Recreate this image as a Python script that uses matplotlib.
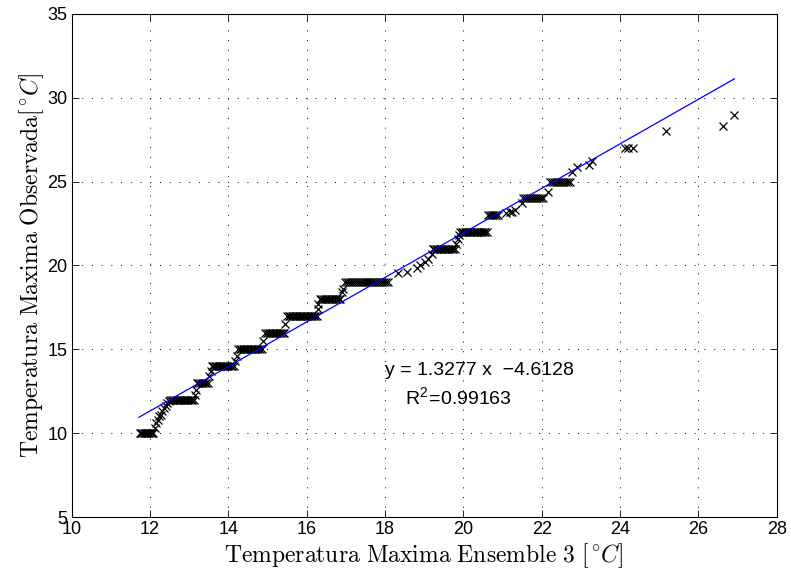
import matplotlib
matplotlib.use("Agg")
import matplotlib.pyplot as plt
import numpy as np

plt.rcParams['font.family'] = ['Liberation Sans', 'DejaVu Sans']
plt.rcParams['mathtext.fontset'] = 'cm'

# Observed levels (plateaus) and ensemble values on each plateau
plateau_levels = [10, 12, 13, 14, 15, 16, 17, 18, 19, 21, 22, 23, 24, 25]
plateau_x = [
    [11.75, 11.78, 11.81, 11.84, 11.87, 11.90, 11.93, 11.96, 11.99, 12.02, 12.05, 12.08],
    [12.52, 12.56, 12.60, 12.64, 12.68, 12.72, 12.76, 12.80, 12.84, 12.88, 12.92, 12.96, 13.00, 13.04, 13.08, 13.12],
    [13.20, 13.24, 13.28, 13.32, 13.36, 13.40, 13.44, 13.48],
    [13.58, 13.62, 13.66, 13.70, 13.74, 13.78, 13.82, 13.86, 13.90, 13.94, 13.98, 14.02, 14.06, 14.10, 14.14],
    [14.25, 14.29, 14.33, 14.37, 14.41, 14.45, 14.49, 14.53, 14.57, 14.61, 14.65, 14.69, 14.73, 14.77, 14.81, 14.85],
    [14.95, 14.99, 15.03, 15.07, 15.11, 15.15, 15.19, 15.23, 15.27, 15.31, 15.35, 15.39, 15.43],
    [15.50, 15.54, 15.58, 15.62, 15.66, 15.70, 15.74, 15.78, 15.82, 15.86, 15.90, 15.94, 15.98, 16.02,
     16.06, 16.10, 16.14, 16.18, 16.22, 16.26],
    [16.34, 16.38, 16.42, 16.46, 16.50, 16.54, 16.58, 16.62, 16.66, 16.70, 16.74, 16.78, 16.82, 16.86],
    [16.98, 17.03, 17.08, 17.13, 17.18, 17.23, 17.28, 17.33, 17.38, 17.43, 17.48, 17.53, 17.58, 17.63,
     17.68, 17.73, 17.78, 17.83, 17.88, 17.93, 17.98, 18.03, 18.08],
    [19.22, 19.26, 19.30, 19.34, 19.38, 19.42, 19.46, 19.50, 19.54, 19.58, 19.62, 19.66, 19.70, 19.74, 19.78],
    [19.92, 19.96, 20.00, 20.04, 20.08, 20.12, 20.16, 20.20, 20.24, 20.28, 20.32, 20.36, 20.40, 20.44,
     20.48, 20.52, 20.56, 20.60],
    [20.64, 20.68, 20.72, 20.76, 20.80, 20.84, 20.88],
    [21.53, 21.58, 21.63, 21.68, 21.73, 21.78, 21.83, 21.88, 21.93, 21.98, 22.03],
    [22.22, 22.27, 22.32, 22.37, 22.42, 22.47, 22.52, 22.57, 22.62, 22.67, 22.72],
]

# Points between plateaus and in the upper tail
extra_x = [12.12, 12.16, 12.20, 12.24, 12.28, 12.32, 12.36, 12.40, 12.44, 12.48,
           13.15, 13.18, 13.52, 13.55, 14.18, 14.22, 14.90, 15.46, 16.28, 16.30,
           16.90, 16.94, 18.33, 18.56, 18.82, 18.90, 19.02, 19.10, 19.19,
           19.82, 19.86, 19.89, 21.10, 21.18, 21.25, 21.32, 21.49, 22.17,
           22.78, 22.90, 23.20, 23.28, 24.12, 24.20, 24.33, 25.17, 26.62, 26.92]
extra_y = [10.3, 10.6, 10.8, 11.0, 11.1, 11.3, 11.5, 11.6, 11.8, 11.9,
           12.3, 12.6, 13.4, 13.7, 14.3, 14.6, 15.5, 16.5, 17.4, 17.7,
           18.4, 18.6, 19.55, 19.6, 19.85, 20.0, 20.2, 20.4, 20.7,
           21.3, 21.6, 21.8, 23.1, 23.2, 23.2, 23.3, 23.7, 24.4,
           25.6, 25.9, 26.0, 26.2, 27.0, 27.0, 27.0, 28.0, 28.3, 29.0]

slope = 1.3277
intercept = -4.6128
fit_x_range = [11.72, 26.92]

x_ticks = [10, 12, 14, 16, 18, 20, 22, 24, 26, 28]
y_ticks = [5, 10, 15, 20, 25, 30, 35]

fig = plt.figure(figsize=(7.91, 5.79), dpi=100)
ax = fig.add_axes([0.0904, 0.107, 0.8916, 0.869])

xs = []
ys = []
for lvl, xl in zip(plateau_levels, plateau_x):
    xs.extend(xl)
    ys.extend([lvl] * len(xl))
xs.extend(extra_x)
ys.extend(extra_y)

ax.plot(xs, ys, linestyle='none', marker='x', color='black', markersize=6, markeredgewidth=0.9)
fx = np.array(fit_x_range)
ax.plot(fx, slope * fx + intercept, color='blue', linewidth=0.9)

ax.set_xlim(10, 28)
ax.set_ylim(5, 35)
ax.set_xticks(x_ticks)
ax.set_yticks(y_ticks)
ax.tick_params(direction='in', top=True, right=True, labelsize=13, length=5, width=0.6, pad=3)
ax.grid(True, color='black', linestyle=(0, (1, 9)), linewidth=0.7)
for s in ax.spines.values():
    s.set_linewidth(0.8)

ax.text(18.0, 13.47, 'y = 1.3277 x  \u22124.6128', fontsize=14)
ax.text(18.51, 11.68, 'R$^{\\mathregular{2}}$=0.99163', fontsize=14)

ax.set_xlabel(r'$\mathrm{Temperatura\ Maxima\ Ensemble\ 3\ }[^\circ\!C]$', fontsize=17, labelpad=2)
ax.set_ylabel(r'$\mathrm{Temperatura\ Maxima\ Observada}[^\circ\!C]$', fontsize=17, labelpad=1)

fig.savefig('out.png', dpi=100)
